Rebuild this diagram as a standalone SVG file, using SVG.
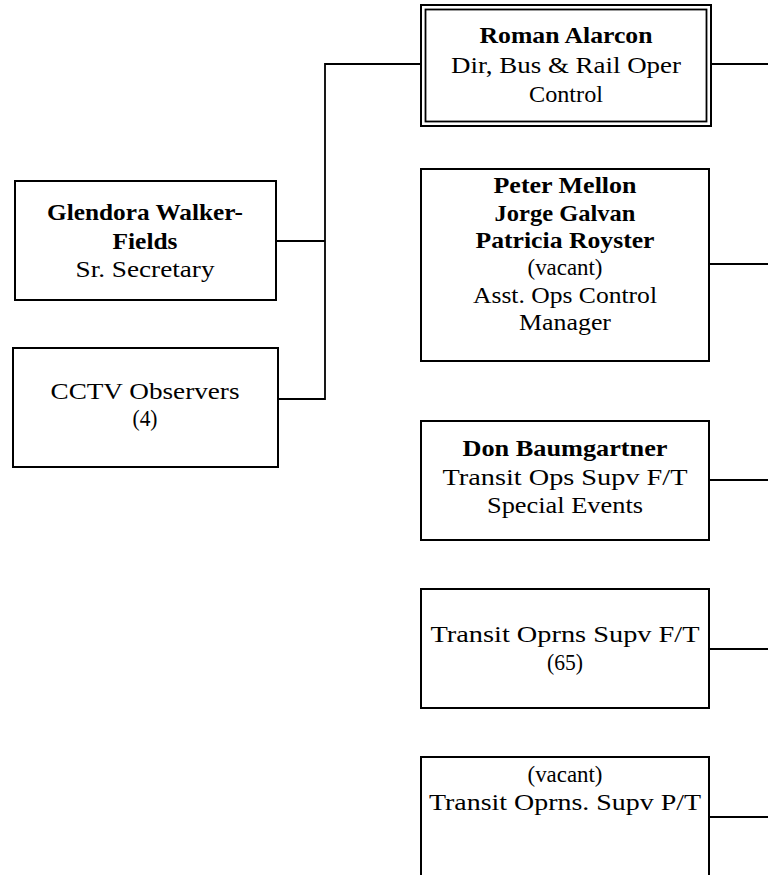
<svg xmlns="http://www.w3.org/2000/svg" width="768" height="875" viewBox="0 0 768 875">
<style>
.box{fill:#fff;stroke:#000;stroke-width:2}
.thin{fill:none;stroke:#000;stroke-width:1.8}
.conn{fill:none;stroke:#000;stroke-width:1.8}
text{font-family:"Liberation Serif","Times New Roman",serif;font-size:24px;fill:#000;text-anchor:middle}
.b{font-weight:bold}
</style>
<rect width="768" height="875" fill="#fff"/>
<g id="connectors">
<polyline class="conn" points="421,64 325,64 325,399 278,399"/>
<line class="conn" x1="276" y1="241" x2="325" y2="241"/>
<line class="conn" x1="712" y1="64" x2="768" y2="64"/>
<line class="conn" x1="709" y1="264" x2="768" y2="264"/>
<line class="conn" x1="709" y1="480" x2="768" y2="480"/>
<line class="conn" x1="709" y1="649" x2="768" y2="649"/>
<line class="conn" x1="709" y1="817" x2="768" y2="817"/>
</g>
<g id="roman">
<rect class="box" x="421" y="5" width="290" height="121"/>
<rect class="thin" x="425.5" y="9.5" width="281" height="112"/>
<text class="b" x="566" y="43" textLength="173" lengthAdjust="spacingAndGlyphs">Roman Alarcon</text>
<text x="566" y="73" textLength="230" lengthAdjust="spacingAndGlyphs">Dir, Bus &amp; Rail Oper</text>
<text x="566" y="102" textLength="74" lengthAdjust="spacingAndGlyphs">Control</text>
</g>
<g id="glendora">
<rect class="box" x="15" y="181" width="261" height="119"/>
<text class="b" x="145" y="220" textLength="196" lengthAdjust="spacingAndGlyphs">Glendora Walker-</text>
<text class="b" x="145" y="249" textLength="65" lengthAdjust="spacingAndGlyphs">Fields</text>
<text x="145" y="277" textLength="139" lengthAdjust="spacingAndGlyphs">Sr. Secretary</text>
</g>
<g id="cctv">
<rect class="box" x="13" y="348" width="265" height="119"/>
<text x="145" y="399" textLength="189" lengthAdjust="spacingAndGlyphs">CCTV Observers</text>
<text x="145" y="426" textLength="25" lengthAdjust="spacingAndGlyphs">(4)</text>
</g>
<g id="asst-ops">
<rect class="box" x="421" y="169" width="288" height="192"/>
<text class="b" x="565" y="193" textLength="143" lengthAdjust="spacingAndGlyphs">Peter Mellon</text>
<text class="b" x="565" y="221" textLength="141" lengthAdjust="spacingAndGlyphs">Jorge Galvan</text>
<text class="b" x="565" y="248" textLength="179" lengthAdjust="spacingAndGlyphs">Patricia Royster</text>
<text x="565" y="275" textLength="75" lengthAdjust="spacingAndGlyphs">(vacant)</text>
<text x="565" y="303" textLength="184" lengthAdjust="spacingAndGlyphs">Asst. Ops Control</text>
<text x="565" y="330" textLength="92" lengthAdjust="spacingAndGlyphs">Manager</text>
</g>
<g id="don">
<rect class="box" x="421" y="421" width="288" height="119"/>
<text class="b" x="565" y="456" textLength="205" lengthAdjust="spacingAndGlyphs">Don Baumgartner</text>
<text x="565" y="485" textLength="245" lengthAdjust="spacingAndGlyphs">Transit Ops Supv F/T</text>
<text x="565" y="513" textLength="156" lengthAdjust="spacingAndGlyphs">Special Events</text>
</g>
<g id="ft-supv">
<rect class="box" x="421" y="589" width="288" height="119"/>
<text x="565" y="642" textLength="269" lengthAdjust="spacingAndGlyphs">Transit Oprns Supv F/T</text>
<text x="565" y="670" textLength="36" lengthAdjust="spacingAndGlyphs">(65)</text>
</g>
<g id="pt-supv">
<rect class="box" x="421" y="757" width="288" height="130"/>
<text x="565" y="782" textLength="75" lengthAdjust="spacingAndGlyphs">(vacant)</text>
<text x="565" y="810" textLength="272" lengthAdjust="spacingAndGlyphs">Transit Oprns. Supv P/T</text>
</g>
</svg>
